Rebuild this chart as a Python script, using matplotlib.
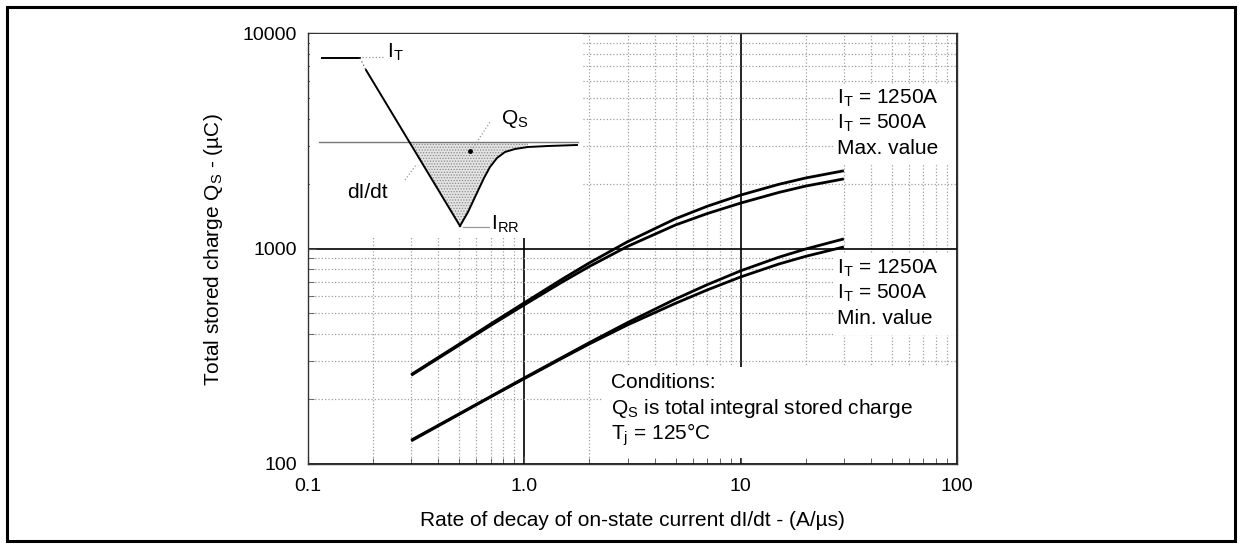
import numpy as np
import matplotlib
matplotlib.use("Agg")
import matplotlib.pyplot as plt
from matplotlib.patches import Rectangle

plt.rcParams["font.family"] = ["Liberation Sans", "DejaVu Sans"]
plt.rcParams["mathtext.fontset"] = "custom"
plt.rcParams["mathtext.rm"] = "Liberation Sans"
plt.rcParams["hatch.linewidth"] = 0.6

# ------------------------------
# Data
# ------------------------------
didt = [0.3, 0.5, 0.7, 1, 1.5, 2, 3, 5, 7, 10, 15, 20, 30]

qs_max_1250 = [260, 360, 447, 560, 722, 858, 1075, 1375, 1570, 1770, 1985, 2125, 2295]
qs_max_500 = [258, 356, 440, 548, 700, 826, 1023, 1286, 1452, 1625, 1820, 1949, 2104]
qs_min_1250 = [129, 171, 206, 251, 313, 366, 453, 583, 679, 788, 911, 995, 1108]
qs_min_500 = [128, 170, 205, 249, 310, 361, 442, 557, 642, 738, 847, 920, 1017]

x_ticks = [0.1, 1, 10, 100]
x_ticklabels = ["0.1", "1.0", "10", "100"]
y_ticks = [100, 1000, 10000]
y_ticklabels = ["100", "1000", "10000"]

# inset sketch of the recovery waveform (sketch units, y grows downward)
flat_t = [322, 360]
flat_i = [58, 58]
ramp_t = [366, 460]
ramp_i = [70, 226]
recov_t = [460, 468, 476, 484, 490, 497, 505, 515, 528, 548, 577]
recov_i = [226, 212, 195, 178, 167, 158, 152, 149, 147, 146, 145]
base_level = 142

W, H = 1242, 550
FS = 15
fig = plt.figure(figsize=(W / 100, H / 100), dpi=100)


def fx(px):
    return px / W


def fy(py):
    return 1 - py / H


ax = fig.add_axes([fx(308), fy(464), fx(957) - fx(308), fy(33) - fy(464)])
ax.set_xscale("log")
ax.set_yscale("log")
ax.set_xlim(0.1, 100)
ax.set_ylim(100, 10000)

ax.grid(True, which="minor", color="#a0a0a0", linestyle=":", linewidth=0.9, zorder=1)
ax.grid(True, which="major", color="black", linestyle="-", linewidth=1.2, zorder=1)

ax.set_xticks(x_ticks)
ax.set_xticklabels(x_ticklabels)
ax.set_yticks(y_ticks)
ax.set_yticklabels(y_ticklabels)
ax.tick_params(which="both", direction="in", labelsize=14, color="#555555")
ax.tick_params(which="major", length=6, pad=8)
ax.tick_params(axis="x", which="major", pad=10)
ax.tick_params(which="minor", length=4)
for s in ax.spines.values():
    s.set_color("#333333")
    s.set_linewidth(1.0)

for q in (qs_max_1250, qs_max_500, qs_min_1250, qs_min_500):
    ax.plot(didt, q, color="black", linewidth=2.0, zorder=4, solid_capstyle="butt")


# white areas that hide the grid behind the notes
def white_box(x0, y0, x1, y1):
    ax.add_patch(Rectangle((fx(x0), fy(y1)), fx(x1) - fx(x0), fy(y0) - fy(y1),
                           transform=fig.transFigure, facecolor="white",
                           edgecolor="none", zorder=2, clip_on=False))


white_box(833, 84, 956, 163)
white_box(833, 253, 956, 335)
white_box(603, 367, 956, 458)


def note(px, py, s):
    ax.text((px - 308) / 649, 1 - (py - 33) / 431, s, transform=ax.transAxes,
            fontsize=FS, va="center", ha="left", zorder=5)


note(837, 98, r"I$_\mathregular{T}$ = 1250A")
note(837, 123, r"I$_\mathregular{T}$ = 500A")
note(837, 148, "Max. value")
note(837, 268, r"I$_\mathregular{T}$ = 1250A")
note(837, 293, r"I$_\mathregular{T}$ = 500A")
note(837, 318, "Min. value")

note(611, 383, "Conditions:")
note(611, 409, r"Q$_\mathregular{S}$ is total integral stored charge")
note(611, 435, r"T$_\mathregular{j}$ = 125°C")

fig.text(fx(632), fy(520), "Rate of decay of on-state current dI/dt - (A/µs)",
         ha="center", va="center", fontsize=FS)
fig.text(fx(213), fy(250), r"Total stored charge Q$_\mathregular{S}$ - (µC)",
         ha="center", va="center", rotation=90, fontsize=FS)

# ------------------------------
# Inset sketch
# ------------------------------
x0, x1, y0, y1 = 309.5, 583, 34, 238
ins = fig.add_axes([fx(x0), fy(y1), fx(x1) - fx(x0), fy(y0) - fy(y1)])
ins.set_xlim(x0, x1)
ins.set_ylim(y1, y0)
ins.axis("off")
ins.add_patch(Rectangle((0, 0), 1, 1, transform=ins.transAxes, facecolor="white",
                        edgecolor="none", zorder=0))

# shaded stored charge
slope = (ramp_t[1] - ramp_t[0]) / (ramp_i[1] - ramp_i[0])
cross_t = ramp_t[0] + slope * (base_level - ramp_i[0])
shade_t = [cross_t, ramp_t[1]] + recov_t[1:9]
shade_i = [base_level, ramp_i[1]] + recov_i[1:9]
ins.fill(shade_t + [recov_t[8]], shade_i + [base_level], facecolor="#e4e4e4",
         edgecolor="#8a8a8a", hatch="......", linewidth=0, zorder=1)

ins.plot([319, 578], [base_level, base_level], color="#777777", linewidth=1.0, zorder=2)
ins.plot(flat_t, flat_i, color="black", linewidth=1.4, zorder=3)
ins.plot([flat_t[1], ramp_t[0]], [flat_i[1], ramp_i[0]], color="#777777",
         linewidth=1.0, linestyle=":", zorder=3)
ins.plot(ramp_t, ramp_i, color="black", linewidth=1.4, zorder=3)
ins.plot(recov_t, recov_i, color="black", linewidth=1.4, zorder=3)

lead = dict(color="#999999", linewidth=0.9, linestyle=":", zorder=3)
ins.plot([362, 383], [57, 57], **lead)
ins.plot([471, 490], [151, 122], **lead)
ins.plot([405, 416], [180, 165], **lead)
ins.plot([463, 489], [227, 227], color="#999999", linewidth=0.9, zorder=3)
ins.plot([470], [151], marker="o", markersize=2.5, color="black", zorder=4)

ins.text(387, 52, r"I$_\mathregular{T}$", fontsize=FS, ha="left", va="center")
ins.text(501, 119, r"Q$_\mathregular{S}$", fontsize=FS, ha="left", va="center")
ins.text(347, 192, "dI/dt", fontsize=FS, ha="left", va="center")
ins.text(491, 224, r"I$_\mathregular{RR}$", fontsize=FS, ha="left", va="center")

# outer frame
fig.add_artist(Rectangle((fx(7), fy(541)), fx(1235) - fx(7), fy(7) - fy(541),
                         transform=fig.transFigure, facecolor="none",
                         edgecolor="black", linewidth=2.2))

fig.savefig("out.png", dpi=100)
